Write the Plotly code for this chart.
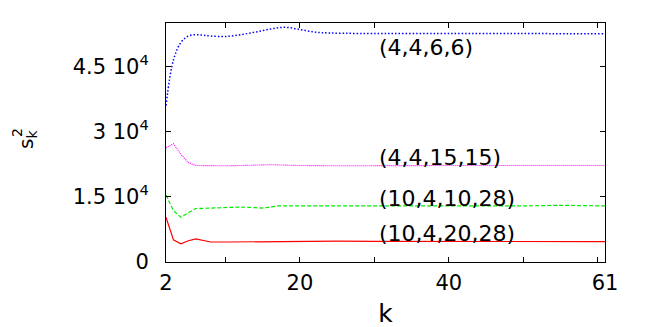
import plotly.graph_objects as go

# values, k -> s_k^2
k_blue = [2, 3, 4, 5, 6, 7, 8, 10, 12, 14, 16, 18, 20, 22, 24, 28, 35, 45, 61]
s_blue = [36000, 46500, 50500, 52000, 52300, 52200, 52000, 51900, 52300, 52900,
          53600, 54000, 53500, 52900, 52700, 52600, 52600, 52600, 52500]

k_mag = [2, 3, 4, 5, 6, 8, 10, 12, 14, 16, 18, 20, 25, 30, 40, 50, 61]
s_mag = [26300, 27200, 24800, 22900, 22200, 22100, 22150, 22200, 22350, 22400,
         22300, 22200, 22150, 22200, 22200, 22200, 22200]

k_green = [2, 3, 4, 5, 6, 8, 10, 12, 14, 15, 17, 20, 22, 25, 30, 35, 40, 45, 50, 55, 61]
s_green = [15400, 11800, 10300, 11300, 12300, 12400, 12450, 12650, 12500, 12400,
           12900, 12900, 12850, 12950, 12900, 12850, 12950, 13000, 12900, 13050, 12900]

k_red = [2, 3, 4, 5, 6, 7, 8, 10, 15, 20, 25, 30, 40, 50, 61]
s_red = [10300, 5100, 4200, 4900, 5300, 4900, 4600, 4600, 4700, 4750, 4800,
         4750, 4750, 4750, 4700]

labels = ["(4,4,6,6)", "(4,4,15,15)", "(10,4,10,28)", "(10,4,20,28)"]
label_y = [49300, 24000, 14550, 6590]

xtick_vals = [2, 10, 20, 30, 40, 50, 60, 61]
xtick_text = ["2", "", "20", "", "40", "", "", "61"]
ytick_vals = [0, 15000, 30000, 45000]
ytick_text = ["0", "1.5 10<sup>4</sup>", "3 10<sup>4</sup>", "4.5 10<sup>4</sup>"]

font = "DejaVu Sans"

# page body has an 8px margin, so the figure box is shifted by that much
L, R, T, B = 158, 57, 15, 71
pw, ph = 654 - L - R, 327 - T - B

fig = go.Figure()
fig.add_trace(go.Scatter(x=k_blue, y=s_blue, mode="lines", line_shape="spline",
                         line=dict(color="#0000ff", width=1.5, dash="1.5px,2px")))
fig.add_trace(go.Scatter(x=k_mag, y=s_mag, mode="lines",
                         line=dict(color="#ff00ff", width=1.1, dash="1px,1px")))
fig.add_trace(go.Scatter(x=k_green, y=s_green, mode="lines",
                         line=dict(color="#00ee00", width=1.2, dash="4px,2px")))
fig.add_trace(go.Scatter(x=k_red, y=s_red, mode="lines",
                         line=dict(color="#ff0000", width=1.2)))

for txt, yv in zip(labels, label_y):
    fig.add_annotation(x=30.3, y=yv, text=txt, showarrow=False, xanchor="left",
                       yanchor="middle", font=dict(family=font, size=22, color="black"))

# y axis title s_k^2, rotated
fig.add_annotation(xref="paper", yref="paper", x=(19 - L) / pw, y=(327 - B - 133) / ph,
                   text="s<sub>k</sub>", textangle=-90, showarrow=False,
                   xanchor="center", yanchor="middle",
                   font=dict(family=font, size=20, color="black"))
fig.add_annotation(xref="paper", yref="paper", x=(9 - L) / pw, y=(327 - B - 126) / ph,
                   text="2", textangle=-90, showarrow=False,
                   xanchor="center", yanchor="middle",
                   font=dict(family=font, size=14, color="black"))

fig.update_layout(
    width=654, height=327,
    margin=dict(l=L, r=R, t=T, b=B),
    paper_bgcolor="white", plot_bgcolor="white",
    showlegend=False,
    font=dict(family=font, size=21, color="black"),
    xaxis=dict(range=[2, 61], tickvals=xtick_vals, ticktext=xtick_text,
               ticks="inside", ticklen=5, tickcolor="black", showgrid=False,
               zeroline=False, showline=True, linecolor="black", linewidth=1,
               mirror="ticks", ticklabelstandoff=2,
               title=dict(text="k", standoff=10)),
    yaxis=dict(range=[0, 55000], tickvals=ytick_vals, ticktext=ytick_text,
               ticks="inside", ticklen=5, tickcolor="black", showgrid=False,
               zeroline=False, showline=True, linecolor="black", linewidth=1,
               mirror="ticks", ticklabelstandoff=12),
)

fig.write_html("out.html")
